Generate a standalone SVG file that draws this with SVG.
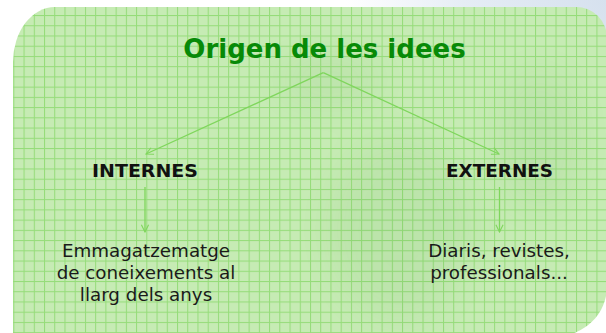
<svg xmlns="http://www.w3.org/2000/svg" width="606" height="333" viewBox="0 0 606 333">
  <defs>
    <radialGradient id="bg" cx="606" cy="0" r="260" gradientUnits="userSpaceOnUse">
      <stop offset="0" stop-color="#d6e1ee"/>
      <stop offset="0.55" stop-color="#e6edf5"/>
      <stop offset="1" stop-color="#ffffff"/>
    </radialGradient>
    <pattern id="grid" patternUnits="userSpaceOnUse" x="3.1" y="4.8" width="10.23" height="10.23">
      <rect width="10.23" height="10.23" fill="#c6ebb4"/>
      <rect x="0" y="0" width="10.23" height="1" fill="#95dc79"/>
      <rect x="0" y="0" width="1" height="10.23" fill="#95dc79"/>
    </pattern>
    <filter id="blur" x="-50%" y="-50%" width="200%" height="200%">
      <feGaussianBlur stdDeviation="18"/>
    </filter>
    <clipPath id="cardClip">
      <path d="M13,336 L13,62 A42,55 0 0 1 55,7 L576,7 A31,31 0 0 1 607,38 L607,286 A50,50 0 0 1 557,336 Z"/>
    </clipPath>
    <marker id="arr" viewBox="0 0 10 10" refX="9" refY="5" markerWidth="9" markerHeight="9" markerUnits="userSpaceOnUse" orient="auto">
      <path d="M1,1 L9,5 L1,9" fill="none" stroke="#7fd65c" stroke-width="1.2"/>
    </marker>
    <style>
      .conn { stroke: #7fd65c; stroke-width: 1.3; fill: none; marker-end: url(#arr); }
      .title { font-family: "DejaVu Sans", Verdana, sans-serif; font-weight: bold; font-size: 26px; fill: #078a07; text-anchor: middle; }
      .head { font-family: "DejaVu Sans", Verdana, sans-serif; font-weight: bold; font-size: 17px; fill: #111111; text-anchor: middle; }
      .body { font-family: "DejaVu Sans", Verdana, sans-serif; font-size: 18.3px; fill: #1a1a1a; text-anchor: middle; }
    </style>
  </defs>

  <rect x="0" y="0" width="606" height="333" fill="url(#bg)"/>

  <g id="card">
    <g clip-path="url(#cardClip)">
      <rect x="0" y="0" width="606" height="340" fill="url(#grid)"/>
      <g filter="url(#blur)" opacity="0.06" fill="#2f7a2a">
        <ellipse cx="400" cy="230" rx="70" ry="90"/>
        <ellipse cx="540" cy="140" rx="40" ry="70"/>
        <ellipse cx="330" cy="80" rx="50" ry="25"/>
      </g>
    </g>
  </g>

  <g id="connectors">
    <line class="conn" x1="323.3" y1="72.7" x2="146" y2="154"/>
    <line class="conn" x1="323.3" y1="72.7" x2="499" y2="154"/>
    <line class="conn" x1="145" y1="187" x2="145" y2="232"/>
    <line class="conn" x1="499.5" y1="187" x2="499.5" y2="232"/>
  </g>

  <g id="node-title">
    <text class="title" x="324.5" y="58">Origen de les idees</text>
  </g>
  <g id="node-internes">
    <text class="head" x="145" y="177" textLength="106" lengthAdjust="spacingAndGlyphs">INTERNES</text>
  </g>
  <g id="node-externes">
    <text class="head" x="499.5" y="177" textLength="107" lengthAdjust="spacingAndGlyphs">EXTERNES</text>
  </g>
  <g id="node-internes-desc">
    <text class="body" x="146" y="257">Emmagatzematge</text>
    <text class="body" x="146" y="279">de coneixements al</text>
    <text class="body" x="146" y="301">llarg dels anys</text>
  </g>
  <g id="node-externes-desc">
    <text class="body" x="499" y="257">Diaris, revistes,</text>
    <text class="body" x="499" y="279">professionals...</text>
  </g>
</svg>
